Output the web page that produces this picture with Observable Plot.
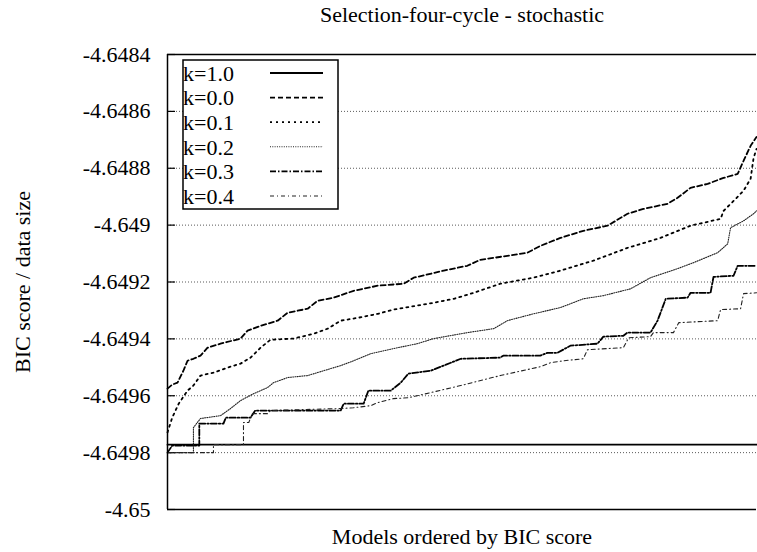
<!DOCTYPE html>
<html>
<head>
<meta charset="utf-8">
<script src="https://cdn.jsdelivr.net/npm/d3@7"></script>
<script src="https://cdn.jsdelivr.net/npm/@observablehq/plot@0.6"></script>
<style>
  html, body { margin: 0; padding: 0; background: #fff; }
  #chart { width: 757px; height: 552px; }
  #chart svg text { font-family: "Liberation Serif", "Times New Roman", serif !important; }
</style>
</head>
<body>
<div id="chart"></div>
<script>
// Text
const title = "Selection-four-cycle - stochastic";
const xLabel = "Models ordered by BIC score";
const yLabel = "BIC score / data size";
const yTicks = [-4.65, -4.6498, -4.6496, -4.6494, -4.6492, -4.649, -4.6488, -4.6486, -4.6484];
const seriesNames = ["k=1.0", "k=0.0", "k=0.1", "k=0.2", "k=0.3", "k=0.4"];

// Each series: [rank of model (% of models, sorted by score), BIC score / data size]
const k10 = [[0, -4.649772], [100, -4.649772]];
const k00 = [[0,-4.649575],[0.8,-4.649561],[1.7,-4.649554],[2.7,-4.649512],[3.4,-4.649477],[4.4,-4.64947],[5.6,-4.649459],[6.8,-4.649431],[9.0,-4.649417],[12.4,-4.649399],[13.6,-4.649371],[15.8,-4.649354],[18.7,-4.649336],[20.4,-4.649308],[23.8,-4.649294],[25.5,-4.649266],[28.2,-4.649255],[31.6,-4.649231],[35.7,-4.649213],[40.1,-4.649206],[41.8,-4.649185],[46.9,-4.64916],[50.9,-4.649143],[53.1,-4.649122],[57.7,-4.649108],[61.1,-4.649097],[63.3,-4.649073],[66.7,-4.649045],[70.6,-4.64902],[74.7,-4.649002],[78.1,-4.64896],[80.8,-4.648943],[84.9,-4.648925],[86.6,-4.648904],[88.8,-4.648869],[91.7,-4.648855],[94.4,-4.648834],[96.8,-4.64882],[97.8,-4.648774],[99.0,-4.648721],[100,-4.64869]];
const k01 = [[0,-4.649729],[0.8,-4.649677],[1.9,-4.649628],[3.4,-4.649582],[4.4,-4.649564],[5.6,-4.649529],[7.8,-4.649519],[10.2,-4.649501],[12.4,-4.649487],[14.1,-4.649466],[15.8,-4.649431],[17.5,-4.649403],[21.4,-4.649399],[24.8,-4.649382],[27.2,-4.649364],[29.4,-4.649336],[32.3,-4.649326],[35.7,-4.649312],[38.4,-4.649297],[45.2,-4.649273],[48.6,-4.649259],[52.0,-4.649238],[56.5,-4.649206],[62.1,-4.649185],[66.7,-4.64916],[72.3,-4.649125],[78.1,-4.64908],[83.7,-4.649045],[88.8,-4.649002],[93.9,-4.648978],[94.4,-4.64895],[96.1,-4.648915],[97.8,-4.648879],[99.0,-4.648837],[99.5,-4.648764],[100,-4.648732]];
const k02 = [[0,-4.6498],[4.4,-4.6498],[4.4,-4.649712],[5.6,-4.64968],[9.0,-4.64967],[10.7,-4.649645],[12.4,-4.649617],[14.6,-4.649593],[17.0,-4.649571],[18.0,-4.649554],[20.4,-4.649536],[23.8,-4.649529],[26.5,-4.649512],[29.4,-4.649494],[31.6,-4.649477],[34.5,-4.649452],[38.4,-4.649434],[42.4,-4.649417],[45.2,-4.649399],[50.9,-4.649378],[55.4,-4.649364],[57.7,-4.649336],[62.1,-4.649312],[66.7,-4.64929],[70.6,-4.649259],[74.0,-4.649248],[78.6,-4.649224],[82.0,-4.649185],[86.6,-4.649153],[89.3,-4.649132],[93.4,-4.649097],[95.1,-4.649066],[95.6,-4.649009],[97.8,-4.648985],[99.5,-4.64896],[100,-4.64895]];
const k03 = [[0,-4.6498],[0.8,-4.649775],[5.4,-4.649775],[5.4,-4.649698],[9.5,-4.649698],[9.9,-4.649677],[14.1,-4.649677],[14.9,-4.649652],[29.4,-4.649652],[29.9,-4.649628],[33.3,-4.649628],[34.1,-4.649582],[37.9,-4.649582],[39.6,-4.649554],[40.9,-4.649522],[44.7,-4.649512],[48.1,-4.649484],[49.8,-4.64947],[56.5,-4.649466],[57.0,-4.649459],[63.3,-4.649459],[64.5,-4.649449],[66.2,-4.649449],[68.4,-4.649424],[73.0,-4.649417],[74.0,-4.649392],[77.4,-4.649389],[78.1,-4.649378],[82.0,-4.649378],[83.2,-4.649336],[84.6,-4.649259],[88.3,-4.649255],[88.8,-4.649238],[92.2,-4.649238],[92.7,-4.649182],[96.1,-4.649178],[96.8,-4.649143],[100,-4.649143]];
const k04 = [[0,-4.6498],[7.8,-4.6498],[7.8,-4.649772],[12.9,-4.649772],[12.9,-4.649694],[13.8,-4.649694],[14.4,-4.649663],[17.0,-4.649663],[17.5,-4.649652],[29.4,-4.649645],[31.6,-4.649642],[34.5,-4.649635],[35.7,-4.649624],[38.4,-4.64961],[40.9,-4.649607],[44.7,-4.649589],[49.8,-4.649564],[56.5,-4.649529],[63.3,-4.649498],[65.0,-4.649484],[67.2,-4.649477],[70.6,-4.64947],[71.3,-4.649438],[77.4,-4.649431],[78.3,-4.649396],[82.0,-4.649392],[82.5,-4.649378],[85.9,-4.649378],[86.8,-4.649343],[93.4,-4.649336],[93.9,-4.649297],[97.3,-4.649294],[97.8,-4.649241],[100,-4.649238]];

const seriesData = [k10, k00, k01, k02, k03, k04];

// Line styles per series (black, gnuplot-like dash patterns)
const lineStyle = {
  "k=1.0": { width: 1.8, dash: "none",      color: "#000" },
  "k=0.0": { width: 1.8, dash: "5,3",       color: "#000" },
  "k=0.1": { width: 1.8, dash: "2,4",       color: "#000" },
  "k=0.2": { width: 1.1, dash: "1,1.3",     color: "#222" },
  "k=0.3": { width: 1.8, dash: "6,2,1.5,2", color: "#000" },
  "k=0.4": { width: 1.1, dash: "4,3,1,3",   color: "#222" }
};

const rows = seriesNames.flatMap((k, i) => seriesData[i].map(([rank, value]) => ({ k, rank, value })));

const W = 757, H = 552;
const margin = { left: 167, right: 1, top: 54, bottom: 43 };
const plotW = W - margin.left - margin.right;
const font = "Liberation Serif";

const chart = Plot.plot({
  width: W,
  height: H,
  marginLeft: margin.left,
  marginRight: margin.right,
  marginTop: margin.top,
  marginBottom: margin.bottom,
  style: { fontFamily: font, fontSize: "22px", color: "#000", background: "#fff", overflow: "visible" },
  x: { domain: [0, 100], axis: null },
  y: { domain: [-4.65, -4.6484] },
  marks: [
    Plot.gridY(yTicks, { stroke: "#000", strokeOpacity: 0.65, strokeDasharray: "1,2", strokeWidth: 1 }),
    // short inward tick marks on the left edge
    Plot.ruleY(yTicks, { x1: 0, x2: 100, insetRight: plotW - 8, stroke: "#000", strokeWidth: 1.2 }),
    Plot.axisY(yTicks, {
      tickSize: 0,
      tickPadding: 17,
      label: null,
      fontSize: 22,
      tickFormat: d => String(+d.toFixed(4))
    }),
    ...seriesNames.map(name => Plot.line(rows.filter(d => d.k === name), {
      x: "rank",
      y: "value",
      stroke: lineStyle[name].color,
      strokeWidth: lineStyle[name].width,
      strokeDasharray: lineStyle[name].dash
    })),
    // border on top, left and bottom of the plotting area
    Plot.ruleY([-4.6484, -4.65], { stroke: "#000", strokeWidth: 1.5 }),
    Plot.ruleX([0], { stroke: "#000", strokeWidth: 1.5 }),
    Plot.text([title], { frameAnchor: "top", lineAnchor: "middle", dy: -40, fontSize: 22 }),
    Plot.text([xLabel], { frameAnchor: "bottom", lineAnchor: "middle", dy: 27, fontSize: 22 }),
    Plot.text([yLabel], { frameAnchor: "left", textAnchor: "middle", lineAnchor: "middle", rotate: -90, dx: -145, fontSize: 22 })
  ]
});

document.getElementById("chart").appendChild(chart);

// Key box in the upper-left corner of the plot area
const svg = d3.select(chart);
const key = svg.append("g")
  .attr("font-size", 22)
  .attr("text-anchor", "start");
const keyX = 183, keyY = 60, keyW = 155, keyH = 149, rowStep = 24.6;
key.append("rect")
  .attr("x", keyX).attr("y", keyY).attr("width", keyW).attr("height", keyH)
  .attr("fill", "#fff").attr("stroke", "#000").attr("stroke-width", 1.5);
seriesNames.forEach((name, i) => {
  const cy = keyY + 13 + i * rowStep;
  key.append("text")
    .attr("x", keyX).attr("y", cy).attr("dy", "0.35em")
    .attr("fill", "#000")
    .attr("text-anchor", "start")
    .text(name);
  key.append("line")
    .attr("x1", 270).attr("x2", 323).attr("y1", cy).attr("y2", cy)
    .attr("stroke", lineStyle[name].color)
    .attr("stroke-width", lineStyle[name].width)
    .attr("stroke-dasharray", lineStyle[name].dash);
});

// serif face on every label
svg.selectAll("text").style("font-family", "'Liberation Serif', 'Times New Roman', serif");
</script>
</body>
</html>
